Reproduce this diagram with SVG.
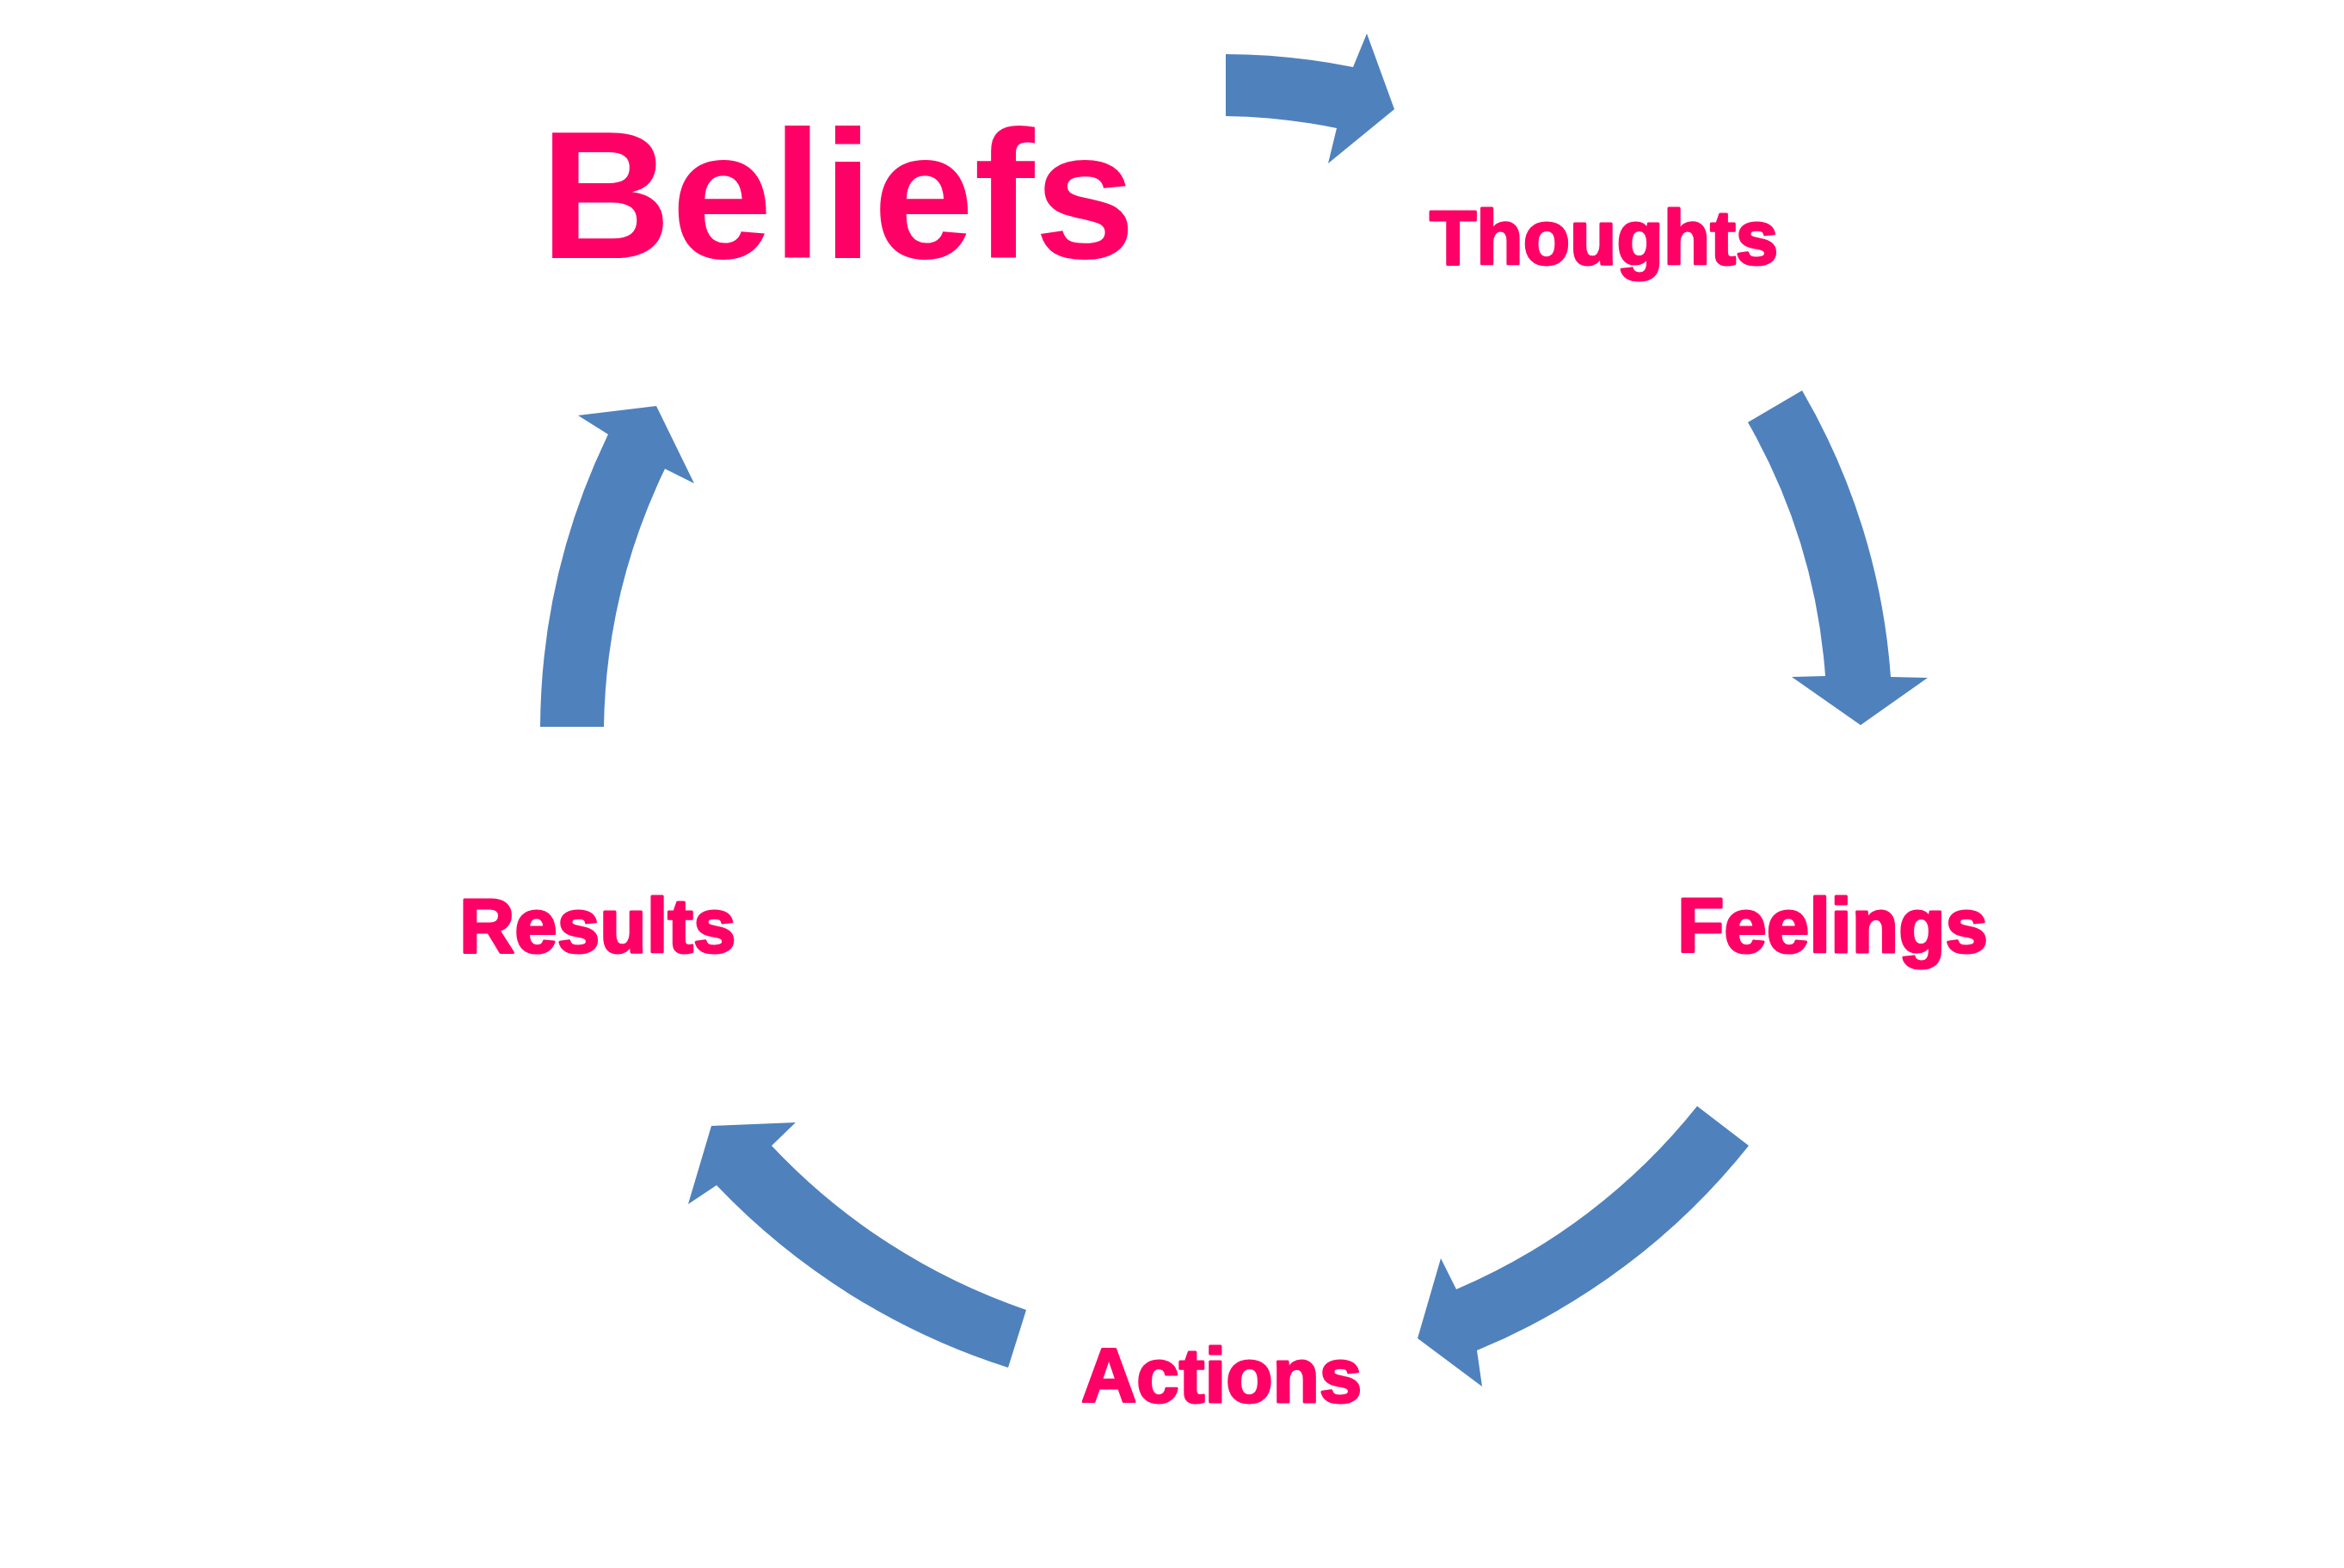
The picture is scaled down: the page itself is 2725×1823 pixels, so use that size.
<svg xmlns="http://www.w3.org/2000/svg" width="2725" height="1823" viewBox="0 0 2725 1823">
<style>
.lbl{font-family:"Liberation Sans",Arial,sans-serif;font-weight:bold;fill:#FF0066;}
.sm{stroke:#FF0066;stroke-width:3;stroke-linejoin:round;}
.arr{fill:#4F81BD;stroke:none;}
</style>
<rect width="2725" height="1823" fill="#FFFFFF"/>
<g id="connectors">
<path class="arr" d="M1425,63 A767,767 0 0 1 1573,78 L1589,39 L1621,127 L1544,190 L1554,149 A693,693 0 0 0 1425,135 Z"/>
<path class="arr" d="M2095,454 A770,770 0 0 1 2198,787 L2241,788 L2163,843 L2083,787 L2122,786 A697,697 0 0 0 2032,491 Z"/>
<path class="arr" d="M2033,1332 A790,790 0 0 1 1717,1570 L1723,1612 L1648,1556 L1675,1463 L1693,1499 A717,717 0 0 0 1973,1286 Z"/>
<path class="arr" d="M1172,1590 A805,805 0 0 1 833,1378 L800,1400 L827,1309 L925,1305 L897,1332 A730,730 0 0 0 1193,1523 Z"/>
<path class="arr" d="M628,845 A792,792 0 0 1 707,505 L672,483 L763,472 L807,562 L773,545 A717,717 0 0 0 702,845 Z"/>
</g>
<g id="beliefs"><text class="lbl" x="628" y="300" font-size="211">Beliefs</text></g>
<g id="thoughts"><text class="lbl sm" x="1662" y="307" font-size="89">Thoughts</text></g>
<g id="feelings"><text class="lbl sm" x="1950" y="1107" font-size="89">Feelings</text></g>
<g id="actions"><text class="lbl sm" x="1257" y="1630" font-size="89">Actions</text></g>
<g id="results"><text class="lbl sm" x="534" y="1107" font-size="89">Results</text></g>
</svg>
